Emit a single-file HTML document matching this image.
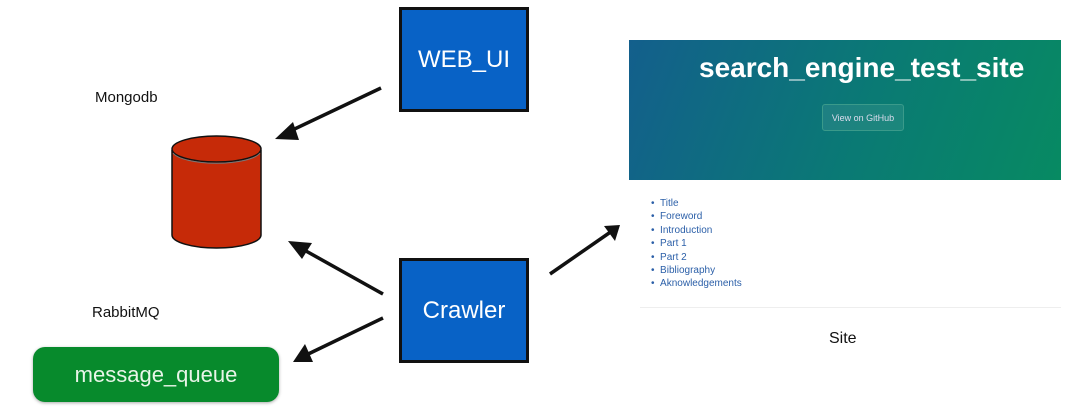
<!DOCTYPE html>
<html><head><style>
body{margin:0;width:1075px;height:419px;background:#fff;position:relative;overflow:hidden;font-family:"Liberation Sans",sans-serif}
.t{position:absolute;color:#111}
.box{position:absolute;background:#0862c6;border:3px solid #111;box-sizing:border-box;color:#fff;font-size:24px;display:flex;align-items:center;justify-content:center}
</style></head><body>
<div class="t" style="left:95px;top:89px;font-size:15px">Mongodb</div>
<div class="t" style="left:92px;top:304px;font-size:15px">RabbitMQ</div>
<div class="box" style="left:399px;top:7px;width:130px;height:105px">WEB_UI</div>
<div class="box" style="left:399px;top:258px;width:130px;height:105px">Crawler</div>
<div style="position:absolute;left:33px;top:347px;width:246px;height:55px;background:#078a2c;border-radius:12px;color:#e8f5e8;font-size:22px;display:flex;align-items:center;justify-content:center;box-shadow:0 1px 3px #aaa">message_queue</div>
<svg width="1075" height="419" style="position:absolute;left:0;top:0">
<path d="M172,150 L172,235 A44.5,13 0 0 0 261,235 L261,150" fill="#c62a08" stroke="#111" stroke-width="1.5"/>
<ellipse cx="216.5" cy="149" rx="44.5" ry="13" fill="#c62a08" stroke="#111" stroke-width="1.5"/>
<path d="M173,153 A44.5,13 0 0 0 260,153" fill="none" stroke="#777" stroke-width="1"/>
<g stroke="#111" stroke-width="3.5">
<line x1="381" y1="88" x2="284" y2="134"/>
<line x1="383" y1="294" x2="297" y2="246"/>
<line x1="383" y1="318" x2="302" y2="357"/>
<line x1="550" y1="274" x2="612" y2="231"/>
</g>
<g fill="#111">
<polygon points="275,139 293,122 299,140"/>
<polygon points="288,241 312,243 302,259"/>
<polygon points="293,362 305,344 313,362"/>
<polygon points="620,225 604,226 615,241"/>
</g>
</svg>
<div style="position:absolute;left:629px;top:40px;width:432px;height:140px;background:linear-gradient(110deg,#135f8c,#0a7a74 55%,#078a62)"></div>
<div style="position:absolute;left:699px;top:52px;color:#fff;font-weight:bold;font-size:28px;white-space:nowrap">search_engine_test_site</div>
<div style="position:absolute;left:822px;top:104px;width:80px;height:25px;border:1px solid #3a9a8a;background:rgba(255,255,255,0.08);border-radius:3px;color:#dde;font-size:9px;display:flex;align-items:center;justify-content:center">View on GitHub</div>
<div style="position:absolute;left:651px;top:197px;font-size:10px;color:#2b5fa8;line-height:13.4px">
<div>•&nbsp;&nbsp;Title</div><div>•&nbsp;&nbsp;Foreword</div><div>•&nbsp;&nbsp;Introduction</div><div>•&nbsp;&nbsp;Part 1</div><div>•&nbsp;&nbsp;Part 2</div><div>•&nbsp;&nbsp;Bibliography</div><div>•&nbsp;&nbsp;Aknowledgements</div></div>
<div style="position:absolute;left:640px;top:307px;width:421px;height:1px;background:#eee"></div>
<div class="t" style="left:829px;top:330px;font-size:16px">Site</div>
</body></html>
